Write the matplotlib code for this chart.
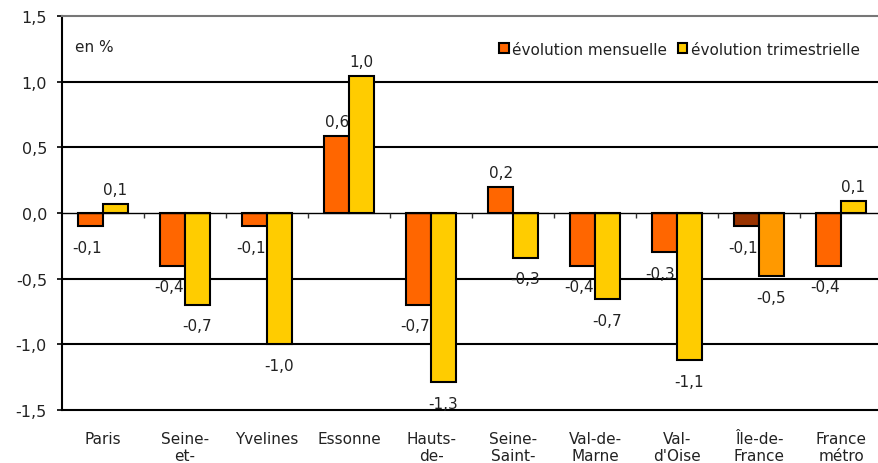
import numpy as np
import matplotlib.pyplot as plt

plt.rcParams['font.family'] = ['DejaVu Sans']

departements = ["Paris", "Seine-\net-", "Yvelines", "Essonne", "Hauts-\nde-",
                "Seine-\nSaint-", "Val-de-\nMarne", "Val-\nd'Oise",
                "Île-de-\nFrance", "France\nmétro"]
mensuelle = [-0.1, -0.4, -0.1, 0.59, -0.7, 0.2, -0.4, -0.3, -0.1, -0.4]
trimestrielle = [0.07, -0.7, -1.0, 1.04, -1.29, -0.34, -0.655, -1.12, -0.48, 0.09]

ORANGE = "#FF6600"
YELLOW = "#FFCC00"
# Ile-de-France bars are highlighted with other shades
colors_m = [ORANGE] * 8 + ["#993300", ORANGE]
colors_t = [YELLOW] * 8 + ["#FF9900", YELLOW]

fig = plt.figure(figsize=(8.79, 4.64), dpi=100)
ax = fig.add_axes([62/879, 53/464, 820/879, 394/464])

x = np.arange(len(departements))
w = 0.3
ax.bar(x - w/2, mensuelle, w, color=colors_m, edgecolor="black", linewidth=1.5,
       zorder=3, label="évolution mensuelle")
ax.bar(x + w/2, trimestrielle, w, color=colors_t, edgecolor="black", linewidth=1.5,
       zorder=3, label="évolution trimestrielle")


def fmt(v):
    return f"{v:.1f}".replace(".", ",")


for i in range(len(x)):
    for v, dx, sh in ((mensuelle[i], -w/2, -0.05), (trimestrielle[i], w/2, 0)):
        if v >= 0:
            ax.text(x[i] + dx, v + 0.11, fmt(v), ha="center", va="center",
                    fontsize=11, color="#222222")
        else:
            ax.text(x[i] + dx + sh, v - 0.16, fmt(v), ha="center", va="center",
                    fontsize=11, color="#222222")

ax.set_xlim(-0.5, len(x) - 0.5)
ax.set_ylim(-1.5, 1.5)
ax.set_yticks([-1.5, -1.0, -0.5, 0.0, 0.5, 1.0, 1.5])
ax.set_yticklabels([fmt(t) for t in [-1.5, -1.0, -0.5, 0.0, 0.5, 1.0, 1.5]])
ax.set_xticks(x)
ax.set_xticklabels(departements, fontsize=11, color="#222222", va="top",
                   linespacing=1.15)
ax.tick_params(axis="x", length=0, pad=15)
ax.tick_params(axis="y", length=3.8, width=1.2, pad=7, labelsize=11.5,
               labelcolor="#222222")

for g in [-1.0, -0.5, 0.5, 1.0]:
    ax.axhline(g, color="black", linewidth=1.5, zorder=1)
ax.axhline(0, color="black", linewidth=1, zorder=4)
# small tick marks between categories on the zero line
ax.vlines(np.arange(0.5, len(x) - 0.5, 1), -0.04, 0, color="#333333", linewidth=1, zorder=4)

ax.spines["top"].set_color("#777777")
ax.spines["top"].set_linewidth(1.5)
ax.spines["left"].set_linewidth(1.5)
ax.spines["bottom"].set_linewidth(1.5)
ax.spines["right"].set_visible(False)

ax.text(0.016, 0.91, "en %", transform=ax.transAxes, fontsize=11, color="#222222")

ax.legend(loc="upper right", bbox_to_anchor=(0.99, 0.97), frameon=False, ncol=2,
          fontsize=11, handlelength=0.6, handleheight=0.6, handletextpad=0.25,
          columnspacing=0.7, labelcolor="#222222")

fig.savefig("out.png", dpi=100)
